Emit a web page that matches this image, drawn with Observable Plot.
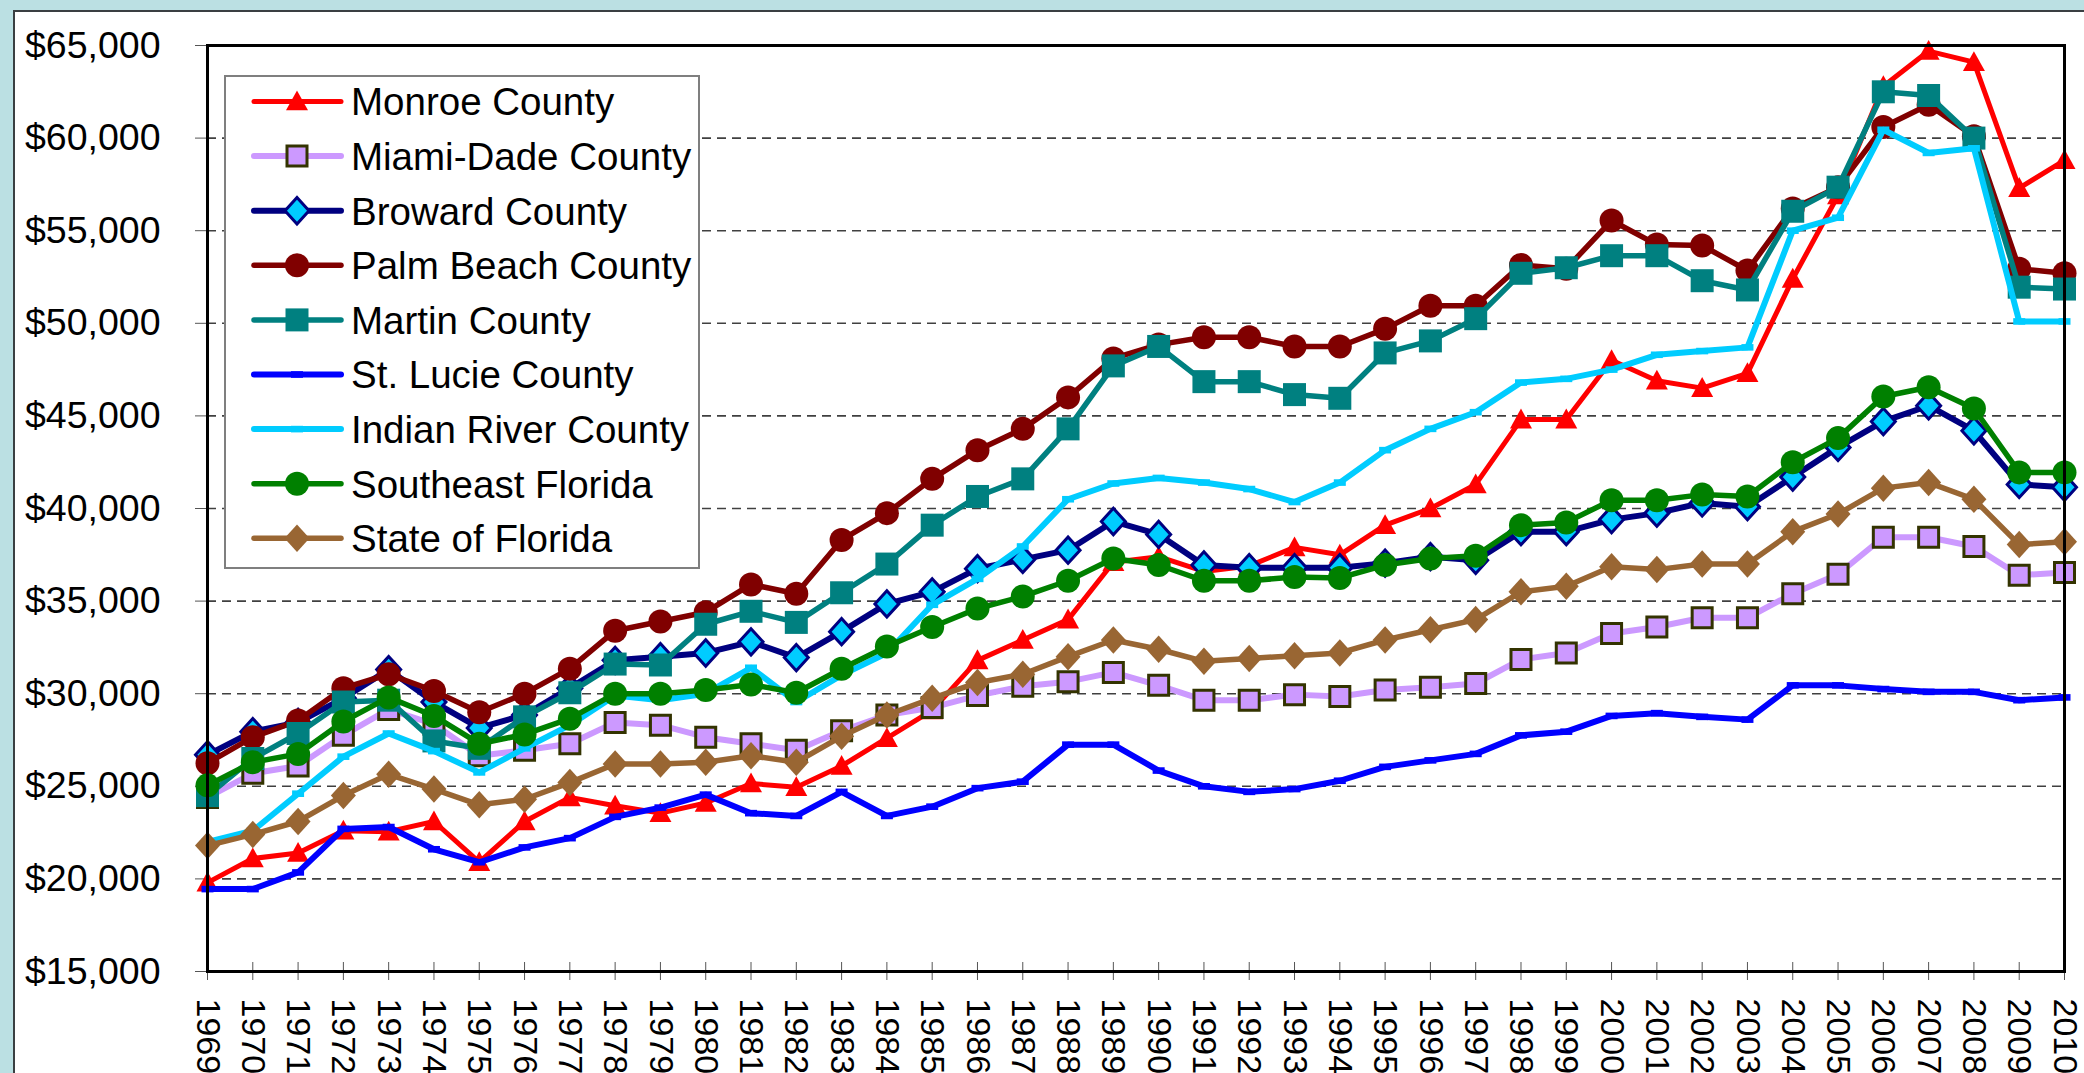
<!DOCTYPE html>
<html><head><meta charset="utf-8">
<script src="https://cdn.jsdelivr.net/npm/d3@7"></script>
<script src="https://cdn.jsdelivr.net/npm/@observablehq/plot@0.6"></script>
<style>
html,body{margin:0;padding:0;background:#BBE0E3;width:2084px;height:1073px;overflow:hidden;font-family:"Liberation Sans",Arial,sans-serif;}
#panel{position:absolute;left:13px;top:10px;width:2071px;height:1063px;background:#fff;border-top:2px solid #3a3f42;border-left:2px solid #3a3f42;box-sizing:border-box;}
#chart{position:absolute;left:0;top:0;}
#legend{position:absolute;left:0;top:0;pointer-events:none;}
</style></head><body>
<div id="panel"></div>
<div id="chart"></div>
<svg id="legend" width="2084" height="1073"></svg>
<script>
const years = [1969,1970,1971,1972,1973,1974,1975,1976,1977,1978,
  1979,1980,1981,1982,1983,1984,1985,1986,1987,1988,
  1989,1990,1991,1992,1993,1994,1995,1996,1997,1998,
  1999,2000,2001,2002,2003,2004,2005,2006,2007,2008,
  2009,2010];
const yTicks = [15000,20000,25000,30000,35000,40000,45000,50000,55000,60000,65000];
const gridValues = [20000,25000,30000,35000,40000,45000,50000,55000,60000];

const seriesNames = ["Monroe County","Miami-Dade County","Broward County","Palm Beach County","Martin County","St. Lucie County","Indian River County","Southeast Florida","State of Florida"];

const monroe = [19800,21100,21400,22600,22550,23100,20900,23100,24400,23950,
  23550,24100,25150,24950,26100,27600,29100,31800,32900,34000,
  37100,37400,36600,36900,37900,37500,39100,40000,41300,44800,
  44800,48000,46900,46500,47300,52400,56900,62800,64700,64100,
  57300,58800];
const miamiDade = [24400,25700,26100,27750,29150,28350,26650,26950,27300,28450,
  28300,27650,27300,26950,28000,28850,29250,29900,30400,30650,
  31150,30450,29650,29650,29950,29850,30200,30350,30550,31850,
  32200,33250,33600,34100,34100,35400,36450,38450,38450,37950,
  36400,36550];
const broward = [26700,27950,28450,29750,31300,29550,28150,28850,30300,31800,
  32000,32200,32800,31950,33350,34850,35500,36750,37250,37750,
  39300,38600,36950,36800,36800,36800,37050,37400,37200,38750,
  38750,39400,39750,40300,40100,41700,43300,44700,45550,44200,
  41300,41150];
const palmBeach = [26250,27650,28550,30300,31050,30150,29000,30000,31350,33400,
  33900,34400,35900,35400,38300,39750,41600,43150,44300,46000,
  48100,48850,49250,49250,48750,48750,49700,50950,50950,53150,
  52950,55550,54250,54200,52850,56200,57350,60600,61800,60100,
  52950,52700];
const martin = [24500,26500,27850,29550,29650,27450,27050,28750,30050,31600,
  31550,33750,34450,33850,35450,37000,39100,40650,41600,44300,
  47700,48750,46850,46850,46150,45950,48400,49050,50250,52700,
  53000,53650,53650,52300,51800,56050,57350,62500,62300,60000,
  51950,51850];
const stLucie = [19450,19450,20350,22700,22800,21600,20900,21700,22200,23350,
  23850,24550,23550,23400,24700,23400,23900,24900,25250,27250,
  27250,25850,25000,24700,24850,25300,26050,26400,26750,27750,
  27950,28800,28950,28750,28600,30450,30450,30250,30100,30100,
  29650,29800];
const indianRiver = [22000,22600,24600,26600,27850,26900,25750,27050,28300,29900,
  29650,30000,31400,29550,31000,32200,34800,36200,37950,40500,
  41350,41650,41400,41050,40350,41400,43150,44300,45200,46800,
  47000,47500,48300,48500,48700,55000,55700,60450,59200,59450,
  50100,50100];
const southeast = [25050,26300,26750,28500,29800,28800,27300,27800,28650,30000,
  30000,30200,30500,30050,31350,32550,33600,34600,35250,36100,
  37300,36950,36100,36100,36300,36250,36950,37300,37450,39100,
  39250,40450,40450,40750,40650,42500,43800,46050,46550,45400,
  41950,41950];
const stateFL = [21800,22400,23100,24500,25650,24850,24000,24300,25200,26200,
  26200,26300,26650,26300,27700,28850,29750,30600,31050,32000,
  32900,32400,31750,31900,32050,32200,32900,33450,34000,35500,
  35800,36850,36700,37000,37000,38750,39700,41100,41400,40500,
  38050,38200];

const seriesValues = [monroe, miamiDade, broward, palmBeach, martin, stLucie, indianRiver, southeast, stateFL];

// marker shapes
const sym = {
  triangle: {draw(c, s){const r=Math.sqrt(s/Math.PI); c.moveTo(0,-r); c.lineTo(r,0.8*r); c.lineTo(-r,0.8*r); c.closePath();}},
  square: {draw(c, s){const r=Math.sqrt(s/Math.PI); c.rect(-r,-r,2*r,2*r);}},
  diamond: {draw(c, s){const r=Math.sqrt(s/Math.PI); c.moveTo(0,-1.1*r); c.lineTo(r,0); c.lineTo(0,1.1*r); c.lineTo(-r,0); c.closePath();}},
  circle: {draw(c, s){const r=Math.sqrt(s/Math.PI); c.moveTo(r,0); c.arc(0,0,r,0,2*Math.PI);}},
  dash: {draw(c, s){const r=Math.sqrt(s/Math.PI); c.rect(-r,-0.55*r,2*r,1.1*r);}}
};

const styles = [
  {line:"#FF0000", width:5, symbol:sym.triangle, r:11, fill:"#FF0000", stroke:"none", sw:0},
  {line:"#CC99FF", width:6, symbol:sym.square, r:10, fill:"#CC99FF", stroke:"#333300", sw:3},
  {line:"#000080", width:6, symbol:sym.diamond, r:12, fill:"#00CCFF", stroke:"#000080", sw:3},
  {line:"#800000", width:5.5, symbol:sym.circle, r:12, fill:"#800000", stroke:"none", sw:0},
  {line:"#008080", width:5.5, symbol:sym.square, r:11.5, fill:"#008080", stroke:"none", sw:0},
  {line:"#0000FF", width:6, symbol:sym.dash, r:6, fill:"#0000FF", stroke:"none", sw:0},
  {line:"#00CCFF", width:6, symbol:sym.dash, r:6, fill:"#00CCFF", stroke:"none", sw:0},
  {line:"#008000", width:5.5, symbol:sym.circle, r:12, fill:"#008000", stroke:"none", sw:0},
  {line:"#996633", width:5.5, symbol:sym.diamond, r:12.5, fill:"#996633", stroke:"none", sw:0}
];

const seriesMarks = [];
seriesValues.forEach((vals, k) => {
  const st = styles[k];
  const rows = years.map((yr, i) => ({year: yr, value: vals[i]}));
  seriesMarks.push(Plot.line(rows, {x: "year", y: "value", stroke: st.line, strokeWidth: st.width, strokeLinejoin: "round"}));
  seriesMarks.push(Plot.dot(rows, {x: "year", y: "value", symbol: st.symbol, r: st.r, fill: st.fill, stroke: st.stroke, strokeWidth: st.sw}));
});

const fmt = d3.format(",");
const plot = Plot.plot({
  width: 2084, height: 1073,
  marginLeft: 207, marginRight: 20, marginTop: 45, marginBottom: 102,
  style: {background: "transparent", fontFamily: "'Liberation Sans', Arial, sans-serif", color: "black", overflow: "visible"},
  x: {domain: [1969, 2010], label: null},
  y: {domain: [15000, 65000], label: null},
  marks: [
    Plot.ruleY(gridValues, {stroke: "#404040", strokeWidth: 1.6, strokeDasharray: "9,6"}),
    Plot.axisY({ticks: yTicks, tickFormat: d => "$" + fmt(d), tickSize: 12, tickPadding: 35, fontSize: 37.5, stroke: "#555", fill: "black", label: null}),
    Plot.axisX({ticks: years, tickSize: 18, dy: -9, tickFormat: () => "", stroke: "#555", label: null}),
    Plot.axisX({ticks: years, tickSize: 0, tickPadding: 27, tickRotate: 90, tickFormat: d => String(d), fontSize: 34, fill: "black", label: null}),
    ...seriesMarks,
    Plot.frame({stroke: "black", strokeWidth: 3})
  ]
});
document.getElementById("chart").appendChild(plot);

// legend
const lg = d3.select("#legend");
lg.append("rect").attr("x", 225).attr("y", 76).attr("width", 474).attr("height", 492)
  .attr("fill", "white").attr("stroke", "#7f7f7f").attr("stroke-width", 2);
seriesNames.forEach((name, i) => {
  const st = styles[i];
  const y = 101.5 + 54.6 * i;
  const g = lg.append("g");
  g.append("line").attr("x1", 254).attr("x2", 341).attr("y1", y).attr("y2", y)
    .attr("stroke", st.line).attr("stroke-width", st.width).attr("stroke-linecap", "round");
  g.append("path").attr("d", d3.symbol(st.symbol, st.r * st.r * Math.PI)())
    .attr("transform", `translate(297,${y})`)
    .attr("fill", st.fill).attr("stroke", st.stroke).attr("stroke-width", st.sw);
  g.append("text").attr("x", 351).attr("y", y).attr("dy", "0.36em")
    .attr("font-size", 38.5).attr("font-family", "'Liberation Sans', Arial, sans-serif")
    .attr("fill", "black").text(name);
});
</script>
</body></html>
